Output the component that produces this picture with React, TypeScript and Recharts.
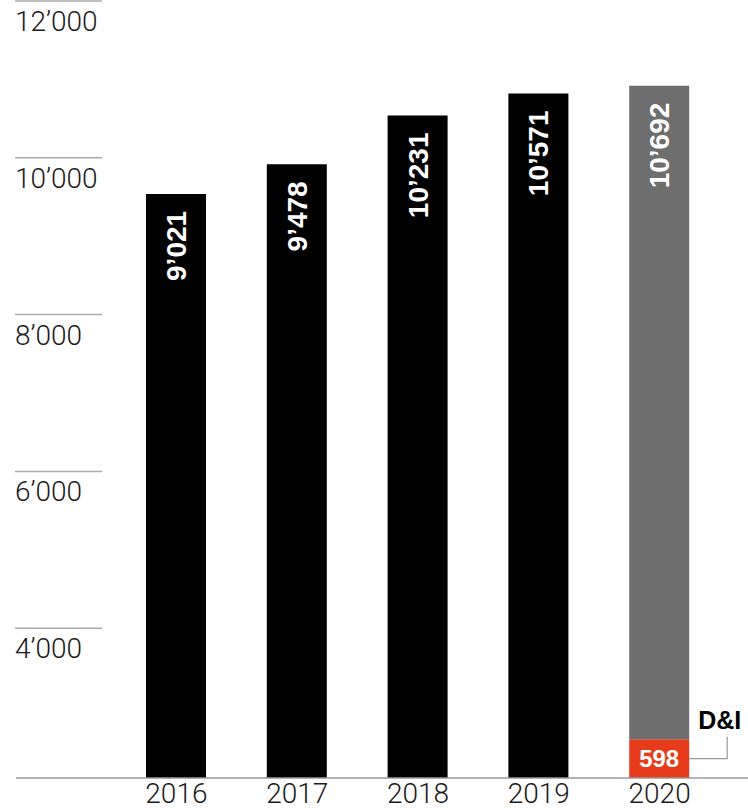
import { Bar, Cell, ComposedChart, LabelList, Line, XAxis, YAxis } from "recharts";

// employees per year, 2020 is the provisional year (grey) with the D&I share at its foot
const years = ["2016", "2017", "2018", "2019", "2020"];
const totals = [9021, 9478, 10231, 10571, 10692];
const diversity = [0, 0, 0, 0, 598];
const provisional = [false, false, false, false, true];
const gridTicks = [4000, 6000, 8000, 10000, 12000];

const rows = years.map((year, i) => ({
  year,
  total: totals[i],
  dni: diversity[i],
  rest: totals[i] - diversity[i]
}));

const fmt = (v: number) => String(v).replace(/\B(?=(\d{3})+(?!\d))/g, "\u2019");

const lightFont = "Roboto, 'Liberation Sans', sans-serif";
const boldFont = "'Liberation Sans', Arial, sans-serif";

function GridTick(props: any) {
  const { y, payload } = props;
  return (
    <g>
      <line x1={15} x2={102} y1={y} y2={y} stroke="#aaa" strokeWidth={1.5} />
      <text x={15} y={y + 30} fontSize={28} fontWeight={300} fontFamily={lightFont} fill="#1a1a1a">
        {fmt(payload.value)}
      </text>
    </g>
  );
}

function YearTick(props: any) {
  const { x, y, payload } = props;
  return (
    <text x={x} y={y + 17} textAnchor="middle" fontSize={28} fontWeight={300} fontFamily={lightFont} fill="#1a1a1a">
      {payload.value}
    </text>
  );
}

function TotalLabel(props: any) {
  const { x, y, width, value } = props;
  const tx = x + width / 2 + 10;
  const ty = y + 17;
  return (
    <text
      x={tx}
      y={ty}
      transform={`rotate(-90 ${tx} ${ty})`}
      textAnchor="end"
      fontSize={28}
      fontWeight={700}
      fontFamily={boldFont}
      fill="#fff"
    >
      {fmt(value)}
    </text>
  );
}

function DniLabel(props: any) {
  const { x, y, width, height, value } = props;
  if (!value) return null;
  const cx = x + width / 2;
  const mid = y + height / 2;
  const right = x + width;
  return (
    <g>
      <text x={cx} y={mid + 8} textAnchor="middle" fontSize={24} fontWeight={700} fontFamily={boldFont} fill="#fff">
        {fmt(value)}
      </text>
      <polyline
        points={`${right},${mid} ${right + 38},${mid} ${right + 38},${mid - 22}`}
        fill="none"
        stroke="#999"
        strokeWidth={1.2}
      />
      <text x={right + 9} y={mid - 30} fontSize={25} fontWeight={700} fontFamily={boldFont} fill="#000">
        D&amp;I
      </text>
    </g>
  );
}

export default function App() {
  return (
    <div style={{ position: "absolute", left: 0, top: 0, background: "#fff" }}>
      <ComposedChart
        width={748}
        height={808}
        data={rows}
        margin={{ top: 1, right: 0, bottom: 0, left: 15 }}
        barSize={60}
      >
        <XAxis
          dataKey="year"
          height={30}
          padding={{ left: 100, right: 28 }}
          axisLine={{ stroke: "#999", strokeWidth: 1.5 }}
          tickLine={false}
          tick={<YearTick />}
          interval={0}
        />
        <YAxis yAxisId="bars" domain={[0, 12000]} hide />
        {/* the printed scale in the source does not line up with the bars, so it gets its own axis */}
        <YAxis
          yAxisId="grid"
          type="number"
          domain={[2090, 12000]}
          allowDataOverflow
          ticks={gridTicks}
          interval={0}
          width={1}
          axisLine={false}
          tickLine={false}
          tick={<GridTick />}
        />
        {/* invisible carrier so the label axis gets a scale */}
        <Line
          yAxisId="grid"
          dataKey="total"
          stroke="none"
          dot={false}
          activeDot={false}
          legendType="none"
          isAnimationActive={false}
        />
        <Bar yAxisId="bars" dataKey="dni" stackId="a" fill="#e63c1c" isAnimationActive={false}>
          <LabelList dataKey="dni" content={<DniLabel />} />
        </Bar>
        <Bar yAxisId="bars" dataKey="rest" stackId="a" isAnimationActive={false}>
          {rows.map((r, i) => (
            <Cell key={r.year} fill={provisional[i] ? "#6e6e6e" : "#000"} />
          ))}
          <LabelList dataKey="total" content={<TotalLabel />} />
        </Bar>
      </ComposedChart>
    </div>
  );
}
